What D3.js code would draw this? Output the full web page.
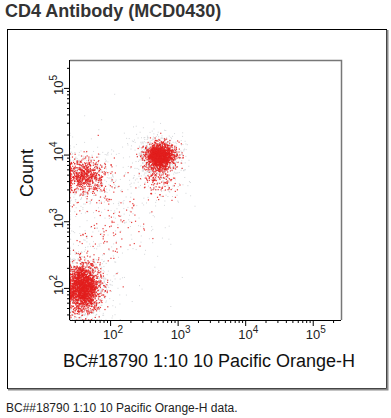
<html>
<head>
<meta charset="utf-8">
<script src="https://d3js.org/d3.v7.min.js"></script>
<style>
  body { margin: 0; background: #fff; }
  text { font-family: Arial, "Liberation Sans", sans-serif; }
</style>
</head>
<body>
<div id="my_dataviz"></div>
<script>

// event populations (log10 units for centre and spread)
var popName  = ["CD4 high", "CD4 high tail", "upper left", "lower left", "between"];
var popX     = [2.74, 2.72, 1.62, 1.60, 2.00];
var popY     = [3.98, 3.72, 3.68, 2.00, 3.05];
var popSdX   = [0.10, 0.13, 0.16, 0.12, 0.30];
var popSdY   = [0.09, 0.18, 0.13, 0.17, 0.36];
var popRed   = [1500, 250, 650, 2000, 130];   // red (dense) events
var popGrey  = [600, 150, 350, 800, 250];     // faint grey events

// axis ticks
var majorTicks = [1e2, 1e3, 1e4, 1e5];
var tickExp = ["2", "3", "4", "5"];
var xDomain = [25.5, 262144];
var yDomain = [33, 262144];

var plot = { left: 70, top: 60, right: 341, bottom: 320 };

var svg = d3.select("#my_dataviz")
    .append("svg")
    .attr("width", 391)
    .attr("height", 418);

// title
svg.append("text")
    .attr("x", 5)
    .attr("y", 17)
    .style("font-size", "18px")
    .style("font-weight", "bold")
    .style("fill", "#333")
    .text("CD4 Antibody (MCD0430)");

// outer frame
svg.append("rect")
    .attr("x", 7.5).attr("y", 29.5)
    .attr("width", 379).attr("height", 359)
    .style("fill", "none")
    .style("stroke", "#000");
svg.append("path")
    .attr("d", "M387.5,30 V389.5 H8")
    .style("fill", "none")
    .style("stroke", "#8a8a8a")
    .style("stroke-width", 2);

var x = d3.scaleLog().domain(xDomain).range([plot.left, plot.right]);
var y = d3.scaleLog().domain(yDomain).range([plot.bottom, plot.top]);

// minor ticks 2..9 of every decade inside the domain
function minors(domain) {
    var out = [];
    for (var e = 1; e <= 5; e++) {
        for (var m = 2; m <= 9; m++) {
            var v = m * Math.pow(10, e);
            if (v > domain[0] && v < domain[1]) out.push(v);
        }
    }
    return out;
}

// events
var rng = d3.randomLcg(0.4271);
var norm = d3.randomNormal.source(rng);

function clampX(v) { return Math.max(xDomain[0], Math.min(xDomain[1], v)); }
function clampY(v) { return Math.max(yDomain[0], Math.min(yDomain[1], v)); }

var greyPts = [], redPts = [];
popName.forEach(function (name, i) {
    var gx = norm(popX[i], popSdX[i] * 1.7), gy = norm(popY[i], popSdY[i] * 1.7);
    for (var k = 0; k < popGrey[i]; k++) {
        greyPts.push({ x: clampX(Math.pow(10, gx())), y: clampY(Math.pow(10, gy())) });
    }
    var rx = norm(popX[i], popSdX[i]), ry = norm(popY[i], popSdY[i]);
    for (var k = 0; k < popRed[i]; k++) {
        redPts.push({ x: clampX(Math.pow(10, rx())), y: clampY(Math.pow(10, ry())) });
    }
});

var dots = svg.append("g");
dots.selectAll(".g")
    .data(greyPts)
    .enter()
    .append("rect")
    .attr("x", function (d) { return x(d.x) - 0.5; })
    .attr("y", function (d) { return y(d.y) - 0.5; })
    .attr("width", 1)
    .attr("height", 1)
    .style("fill", "#c4c8cc")
    .style("opacity", 0.7);
dots.selectAll(".r")
    .data(redPts)
    .enter()
    .append("rect")
    .attr("x", function (d) { return x(d.x) - 0.6; })
    .attr("y", function (d) { return y(d.y) - 0.6; })
    .attr("width", 1.2)
    .attr("height", 1.2)
    .style("fill", "#e3201e")
    .style("opacity", 0.85);

// plot frame (top and right)
svg.append("path")
    .attr("d", "M" + plot.left + "," + (plot.top + 0.5) + " H" + (plot.right + 0.5) + " V" + plot.bottom)
    .style("fill", "none")
    .style("stroke", "#777")
    .style("stroke-width", 1.5);

// x axis
var gx = svg.append("g").attr("transform", "translate(0," + plot.bottom + ")");
gx.append("g")
    .call(d3.axisBottom(x).tickValues(minors(xDomain)).tickSize(3).tickFormat(""))
    .call(function (g) { g.select(".domain").remove(); });
gx.append("g")
    .call(d3.axisBottom(x).tickValues(majorTicks).tickSize(6).tickFormat(""))
    .call(function (g) { g.select(".domain").attr("d", "M" + plot.left + ",0.5H" + plot.right); });

gx.selectAll(".xlab")
    .data(majorTicks)
    .enter()
    .append("text")
    .attr("class", "xlab")
    .attr("x", function (d) { return x(d) - 7; })
    .attr("y", 19)
    .style("font-size", "13px")
    .style("fill", "#222")
    .each(function (d, i) {
        var t = d3.select(this);
        t.append("tspan").text("10");
        t.append("tspan").attr("dy", -6).style("font-size", "10px").text(tickExp[i]);
    });

// y axis
var gy = svg.append("g").attr("transform", "translate(" + plot.left + ",0)");
gy.append("g")
    .call(d3.axisLeft(y).tickValues(minors(yDomain)).tickSize(3).tickFormat(""))
    .call(function (g) { g.select(".domain").remove(); });
gy.append("g")
    .call(d3.axisLeft(y).tickValues(majorTicks).tickSize(6).tickFormat(""))
    .call(function (g) { g.select(".domain").attr("d", "M-0.5," + plot.top + "V" + plot.bottom); });

gy.selectAll(".ylab")
    .data(majorTicks)
    .enter()
    .append("text")
    .attr("class", "ylab")
    .attr("transform", function (d) { return "translate(-7," + (y(d) + 7) + ") rotate(-90)"; })
    .style("font-size", "13px")
    .style("fill", "#222")
    .each(function (d, i) {
        var t = d3.select(this);
        t.append("tspan").text("10");
        t.append("tspan").attr("dy", -6).style("font-size", "10px").text(tickExp[i]);
    });

// axis titles
svg.append("text")
    .attr("x", 209)
    .attr("y", 367)
    .attr("text-anchor", "middle")
    .style("font-size", "18px")
    .style("fill", "#111")
    .text("BC#18790 1:10 10 Pacific Orange-H");

svg.append("text")
    .attr("transform", "translate(33,173) rotate(-90)")
    .attr("text-anchor", "middle")
    .style("font-size", "18px")
    .style("fill", "#111")
    .text("Count");

// caption
svg.append("text")
    .attr("x", 6)
    .attr("y", 412)
    .style("font-size", "12px")
    .style("fill", "#222")
    .text("BC##18790 1:10 10 Pacific Orange-H data.");

</script>
</body>
</html>
